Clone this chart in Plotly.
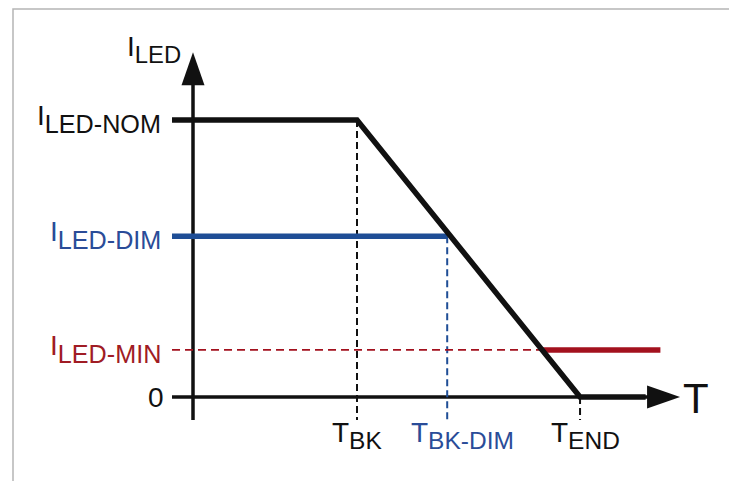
import plotly.graph_objects as go

# ---- data (time axis in arbitrary units, current in % of nominal) ----
T_BK = 10.0
T_BK_DIM = 15.5
T_END = 23.6
T_RED_END = 28.5
T_AXIS_END = 29.7
T_STUB = -1.28

I_NOM = 100.0
I_DIM = 58.0
I_MIN = 17.0
I_AXIS_END = 124.5
I_DROP = -8.3

# intersection of I_MIN with the derating ramp
T_MIN_CROSS = 21.3

curve_x = [T_STUB, T_BK, T_END, 27.6]
curve_y = [I_NOM, I_NOM, 0.0, 0.0]

dim_x = [T_STUB, T_BK_DIM]
dim_y = [I_DIM, I_DIM]

min_dash_x = [T_STUB, T_MIN_CROSS]
min_solid_x = [T_MIN_CROSS, T_RED_END]

BLACK = "#111111"
BLUE = "#1f4e96"
BLUE_TXT = "#2a4c98"
RED = "#a3111e"
RED_TXT = "#a01c24"
FONT = "Liberation Sans, Arial, sans-serif"

# page offset (default body margin) and figure size
OFF = 8
W, H = 737 - OFF, 481 - OFF
PX_X, PX_Y = 16.4, 2.77      # pixels per data unit
X0_PX, Y0_PX = 193, 397      # screen position of the origin

fig = go.Figure()

def line(x, y, color, width, dash="solid"):
    fig.add_trace(go.Scatter(x=x, y=y, mode="lines", hoverinfo="skip",
                             line=dict(color=color, width=width, dash=dash),
                             showlegend=False))

# axes
line([0, 0], [I_DROP, I_AXIS_END - 8], BLACK, 3.5)
line([T_STUB, T_AXIS_END - 1], [0, 0], BLACK, 3.5)

# dashed guides
line([T_BK, T_BK], [I_NOM, I_DROP], BLACK, 2, "7px,4px")
line([T_BK_DIM, T_BK_DIM], [I_DIM, I_DROP - 0.5], BLUE, 2, "7px,4px")
line([T_END, T_END], [0, I_DROP], BLACK, 2, "7px,4px")
line(min_dash_x, [I_MIN, I_MIN], RED, 1.8, "8px,5px")

# series
line(dim_x, dim_y, BLUE, 5.5)
line(min_solid_x, [I_MIN, I_MIN], RED, 5.5)
line(curve_x, curve_y, BLACK, 5.5)

shapes = [
    # arrow heads (pixel-sized, anchored at axis tips)
    dict(type="path", xref="x", yref="y", xsizemode="pixel", ysizemode="pixel",
         xanchor=0, yanchor=I_AXIS_END, path="M 0 0 L -11.5 -33 L 11.5 -33 Z",
         fillcolor=BLACK, line=dict(width=0)),
    dict(type="path", xref="x", yref="y", xsizemode="pixel", ysizemode="pixel",
         xanchor=T_AXIS_END, yanchor=0, path="M 0 0 L -33 11.5 L -33 -11.5 Z",
         fillcolor=BLACK, line=dict(width=0)),
    # frame
    dict(type="rect", xref="paper", yref="paper", x0=(13 - OFF) / W, x1=(731 - OFF) / W,
         y0=-0.1, y1=1 - 1 / H, line=dict(color="#b5b5b5", width=1.5),
         fillcolor="rgba(0,0,0,0)", layer="below"),
]

def lab(main, sub):
    return f'<span style="font-size:28px">{main}</span><sub>{sub}</sub>'

annotations = []
# left labels
for y, sub, col in [(I_NOM, "LED-NOM", BLACK), (I_DIM, "LED-DIM", BLUE_TXT),
                    (I_MIN, "LED-MIN", RED_TXT)]:
    annotations.append(dict(x=T_STUB, y=y, xref="x", yref="y", showarrow=False,
                            text=lab("I", sub), xanchor="right", yanchor="middle",
                            xshift=-9, yshift=1, font=dict(family=FONT, size=36, color=col)))
annotations.append(dict(x=T_STUB, y=0, xref="x", yref="y", showarrow=False, text="0",
                        xanchor="right", yanchor="middle", xshift=-6,
                        font=dict(family=FONT, size=28, color=BLACK)))
# top label
annotations.append(dict(x=0, y=I_AXIS_END, xref="x", yref="y", showarrow=False,
                        text=lab("I", "LED"), xanchor="right", yanchor="middle",
                        xshift=-10, yshift=3, font=dict(family=FONT, size=34, color=BLACK)))
# axis label T
annotations.append(dict(x=T_AXIS_END, y=0, xref="x", yref="y", showarrow=False, text="T",
                        xanchor="left", yanchor="middle", xshift=1, yshift=-1,
                        font=dict(family=FONT, size=42, color=BLACK)))
# bottom labels
for x, sub, col, xs in [(T_BK, "BK", BLACK, 0), (T_BK_DIM, "BK-DIM", BLUE_TXT, 15),
                        (T_END, "END", BLACK, 5)]:
    annotations.append(dict(x=x, y=0, xref="x", yref="y", showarrow=False,
                            text=lab("T", sub), xanchor="center", yanchor="middle",
                            xshift=xs, yshift=-38, font=dict(family=FONT, size=35, color=col)))

fig.update_layout(
    width=W, height=H,
    margin=dict(l=0, r=0, t=0, b=0),
    paper_bgcolor="white", plot_bgcolor="white",
    xaxis=dict(range=[(OFF - X0_PX) / PX_X, (737 - X0_PX) / PX_X], visible=False, fixedrange=True),
    yaxis=dict(range=[(Y0_PX - 481) / PX_Y, (Y0_PX - OFF) / PX_Y], visible=False, fixedrange=True),
    shapes=shapes, annotations=annotations, showlegend=False,
)

fig.write_html("out.html", config={"displayModeBar": False})
